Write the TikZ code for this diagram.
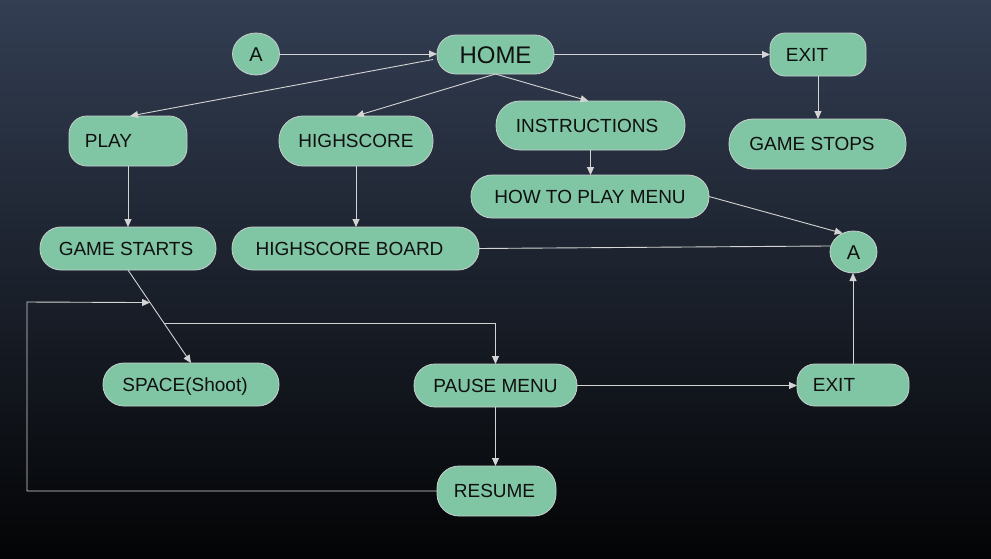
\documentclass[tikz,border=0pt]{standalone}
\usepackage{fontspec}
\setmainfont{Liberation Sans}
\usetikzlibrary{arrows.meta,calc,shapes.geometric}
\definecolor{bgtop}{HTML}{333E53}
\definecolor{bgmid}{HTML}{1C212E}
\definecolor{bgbot}{HTML}{030405}
\definecolor{nodefill}{HTML}{80C6A5}
\definecolor{nodeline}{HTML}{C8D0CC}
\definecolor{wire}{HTML}{D4D4D4}
\definecolor{ink}{HTML}{101010}
\tikzset{
  box/.style={draw=nodeline, line width=0.8pt, fill=nodefill, rounded corners=20pt,
    inner sep=0pt, outer sep=0pt, text=ink, font=\fontsize{19}{22}\selectfont,
    text height=13.6pt, text depth=0pt},
  oval/.style={draw=nodeline, line width=0.8pt, fill=nodefill, ellipse,
    inner sep=0pt, outer sep=0pt, text=ink, font=\fontsize{20}{23}\selectfont,
    text height=14.3pt, text depth=0pt},
  wireline/.style={draw=wire, line width=0.9pt},
  arr/.style={wireline, -{Triangle[length=8pt,width=7pt]}},
}
\begin{document}
\begin{tikzpicture}[x=1pt,y=-1pt]
\useasboundingbox (0,0) rectangle (991,558);
\shade[top color=bgtop, middle color=bgmid, bottom color=bgbot] (0,0) rectangle (991,558);

% nodes
\node[oval, minimum width=47pt, minimum height=42pt] (atop) at (256,54) {A};
\node[box, minimum width=117pt, minimum height=39pt, rounded corners=19pt, font=\fontsize{24}{28}\selectfont, text height=17.2pt] (home) at (495.5,54.5) {HOME};
\node[box, minimum width=96pt, minimum height=43pt, rounded corners=15pt] (exittop) at (818,54.5) {EXIT\hspace*{22pt}};
\node[box, minimum width=177pt, minimum height=50pt, rounded corners=24pt] (stops) at (817.5,144) {GAME STOPS\hspace*{11pt}};
\node[box, minimum width=189pt, minimum height=49pt, rounded corners=24pt] (instr) at (590.5,125.5) {INSTRUCTIONS\hspace*{7pt}};
\node[box, minimum width=238pt, minimum height=43pt, rounded corners=21pt] (howto) at (590,196.5) {HOW TO PLAY MENU};
\node[oval, minimum width=47pt, minimum height=42pt] (aright) at (853.5,252) {A};
\node[box, minimum width=118pt, minimum height=50pt, rounded corners=18pt] (play) at (128,141) {PLAY\hspace*{39pt}};
\node[box, minimum width=154pt, minimum height=50pt, rounded corners=24pt] (hs) at (356,141) {HIGHSCORE};
\node[box, minimum width=176pt, minimum height=43pt, rounded corners=21pt] (starts) at (128,248.5) {GAME STARTS\hspace*{4pt}};
\node[box, minimum width=247pt, minimum height=43pt, rounded corners=21pt] (board) at (355.5,248.5) {HIGHSCORE BOARD\hspace*{12pt}};
\node[box, minimum width=176pt, minimum height=43pt, rounded corners=21pt] (space) at (191,384.5) {SPACE(Shoot)\hspace*{12pt}};
\node[box, minimum width=163pt, minimum height=43pt, rounded corners=21pt] (pause) at (495.5,385.5) {PAUSE MENU};
\node[box, minimum width=112pt, minimum height=42pt, rounded corners=18pt] (exitbot) at (853,385) {EXIT\hspace*{38pt}};
\node[box, minimum width=119pt, minimum height=50pt, rounded corners=22pt] (resume) at (496.5,491) {RESUME\hspace*{4pt}};

% helper coordinates
\coordinate (br) at ($(starts.south)!0.57!(space.north)$);
\coordinate (lp) at ($(starts.south)!0.35!(space.north)$);
\coordinate (loopx) at (27,302);

% connectors
\draw[arr] (atop.east) -- (atop.east -| home.west);
\draw[arr] (home.east) -- (home.east -| exittop.west);
\draw[arr] ($(home.west)+(-4,5)$) -- ($(play.north)+(2,0)$);
\draw[arr] (home.south) -- (hs.north);
\draw[arr] (home.south) -- ($(instr.north)+(-2,0)$);
\draw[arr] (instr.south) -- (instr.south |- howto.north);
\draw[arr] (exittop.south) -- (exittop.south |- stops.north);
\draw[arr] (play.south) -- (play.south |- starts.north);
\draw[arr] (hs.south) -- (hs.south |- board.north);
\draw[arr] (howto.east) -- (aright.120);
\draw[wireline] (board.east) -- (aright.165);
\draw[arr] (exitbot.north) -- (exitbot.north |- aright.south);
\draw[arr] (pause.east) -- (pause.east -| exitbot.west);
\draw[arr] (pause.south) -- (pause.south |- resume.north);
\draw[arr] (starts.south) -- (space.north);
\draw[arr] (br) -| (pause.north);
\draw[arr] (resume.west) -| (loopx) -- (lp);
\end{tikzpicture}
\end{document}
